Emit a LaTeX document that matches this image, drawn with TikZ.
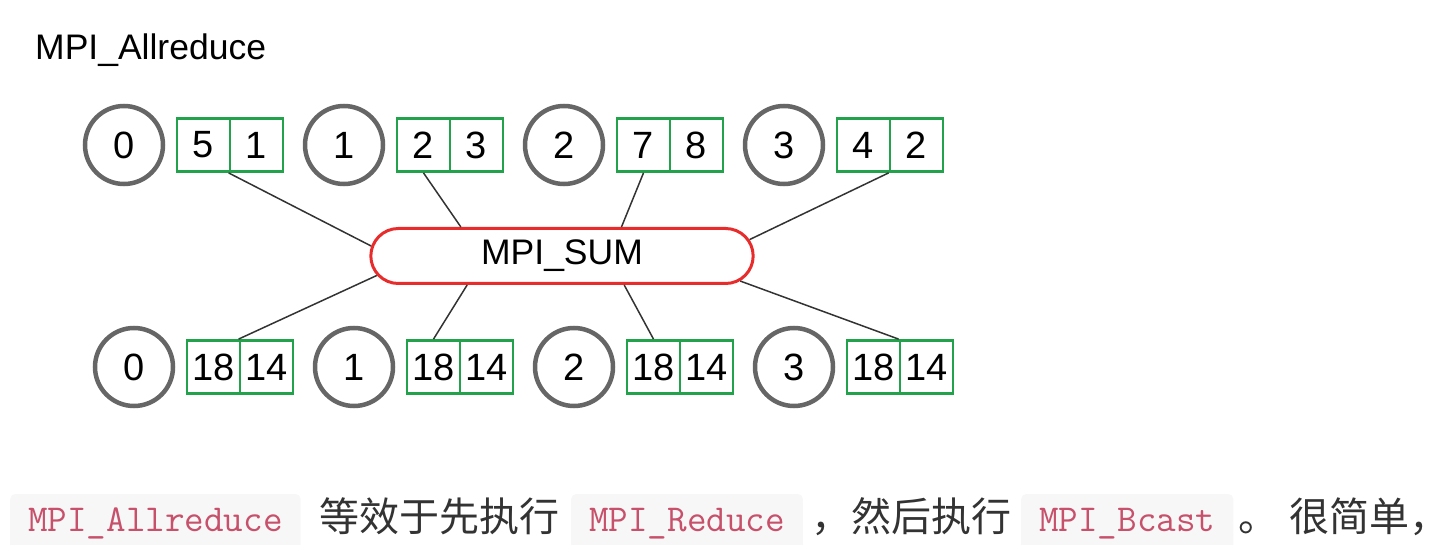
\documentclass[tikz,border=0pt]{standalone}
\usepackage{fontspec}
\setmainfont{Liberation Sans}
\newfontfamily\cjk{Noto Sans CJK SC}
\usetikzlibrary{shapes.misc}
\definecolor{rankgray}{HTML}{666666}
\definecolor{cellgreen}{HTML}{22A24B}
\definecolor{opred}{HTML}{E82C2C}
\definecolor{codebg}{HTML}{F7F7F7}
\definecolor{codefg}{HTML}{C7506B}
\definecolor{textgray}{HTML}{333333}

\begin{document}
\begin{tikzpicture}[x=1pt, y=-1pt,
    rank/.style={circle, draw=rankgray, line width=4.5pt, minimum size=78pt, inner sep=0pt,
        font=\fontsize{38}{42}\selectfont},
    cell/.style={rectangle, draw=cellgreen, line width=2.8pt, minimum width=53pt, minimum height=53pt,
        inner sep=0pt, font=\fontsize{38}{42}\selectfont},
    op/.style={rounded rectangle, draw=opred, line width=3pt, minimum width=389pt, minimum height=55pt,
        font=\fontsize{35.5}{40}\selectfont},
    link/.style={draw=black!80, line width=1.5pt},
    code/.style={anchor=base west, fill=codebg, rounded corners=5pt, inner xsep=18pt, inner ysep=8pt,
        text height=29pt, text depth=14pt, text=codefg, font=\ttfamily\fontsize{38}{40}\selectfont},
    zh/.style={anchor=base west, inner sep=0pt, text=textgray, font=\cjk\fontsize{40}{44}\selectfont}]
			%%%%% START %%%%%
			
			\useasboundingbox (0, 0) rectangle (1430, 545);
			
			\node[anchor=base west, inner sep=0pt, font=\fontsize{35.5}{40}\selectfont] (title) at (35, 60) {MPI\_Allreduce};
			
			% ranks before the reduction
			\node[rank] (r0) at (124, 145) {0};
			\node[cell] (a0) at (203.5, 145) {5};
			\node[cell] (b0) at (256.5, 145) {1};
			
			\node[rank] (r1) at (344, 145) {1};
			\node[cell] (a1) at (423.5, 145) {2};
			\node[cell] (b1) at (476.5, 145) {3};
			
			\node[rank] (r2) at (564, 145) {2};
			\node[cell] (a2) at (643.5, 145) {7};
			\node[cell] (b2) at (696.5, 145) {8};
			
			\node[rank] (r3) at (784, 145) {3};
			\node[cell] (a3) at (863.5, 145) {4};
			\node[cell] (b3) at (916.5, 145) {2};
			
			% operation
			\node[op] (sum) at (562, 256) {MPI\_SUM};
			
			% ranks after the reduction
			\node[rank] (s0) at (134, 367) {0};
			\node[cell] (c0) at (213.5, 367) {18};
			\node[cell] (d0) at (266.5, 367) {14};
			
			\node[rank] (s1) at (354, 367) {1};
			\node[cell] (c1) at (433.5, 367) {18};
			\node[cell] (d1) at (486.5, 367) {14};
			
			\node[rank] (s2) at (574, 367) {2};
			\node[cell] (c2) at (653.5, 367) {18};
			\node[cell] (d2) at (706.5, 367) {14};
			
			\node[rank] (s3) at (794, 367) {3};
			\node[cell] (c3) at (873.5, 367) {18};
			\node[cell] (d3) at (926.5, 367) {14};
			
			\draw[link] (b0.south west) -- (sum.177);
			\draw[link] (a1.south) -- (sum.164);
			\draw[link] (a2.south) -- (sum.26);
			\draw[link] (b3.south west) -- (sum.5);
			
			\draw[link] (d0.north west) -- (sum.186);
			\draw[link] (c1.north) -- (sum.197);
			\draw[link] (c2.north) -- (sum.335);
			\draw[link] (d3.north west) -- (sum.352);
			
			% caption line
			\node[code] (k1) at (10, 531) {MPI\_Allreduce};
			\node[zh] (t1) at (319, 531) {等效于先执行};
			\node[code] (k2) at (571, 531) {MPI\_Reduce};
			\node[zh] (t2) at (811, 531) {，然后执行};
			\node[code] (k3) at (1021, 531) {MPI\_Bcast};
			\node[zh] (t3) at (1238, 531) {。};
			\node[zh] (t4) at (1289, 531) {很简单，};
			
			%%%%% END %%%%%
\end{tikzpicture}
\end{document}
